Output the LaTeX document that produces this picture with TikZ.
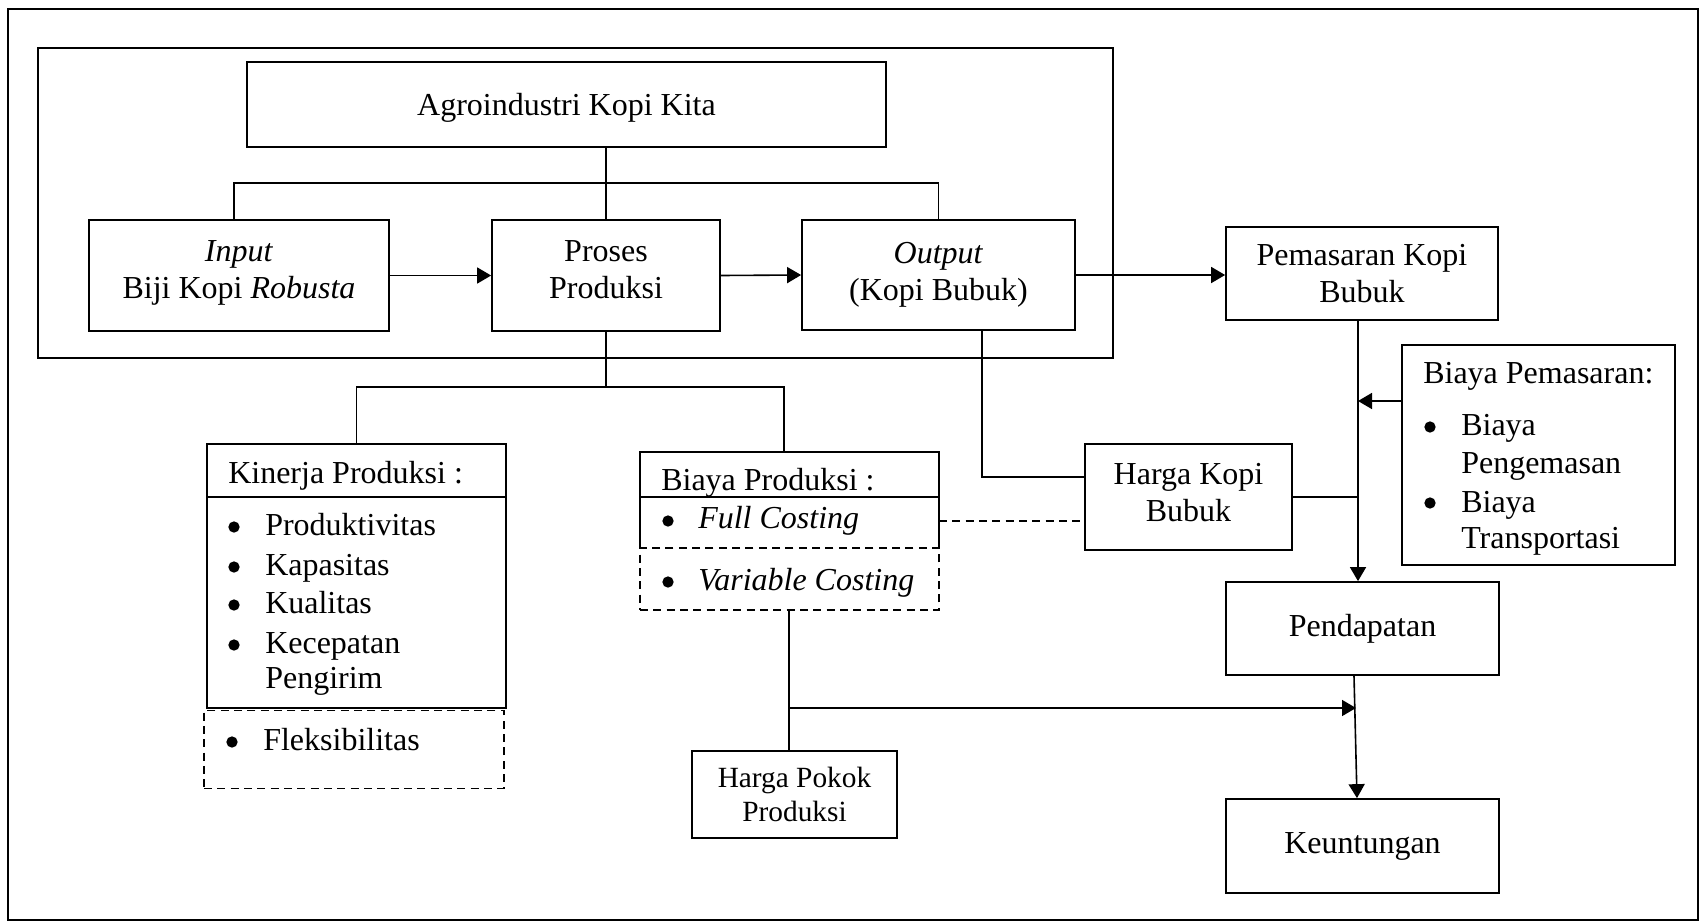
\documentclass[tikz,border=0pt]{standalone}
\usepackage{fontspec}
\setmainfont{Liberation Serif}
\usetikzlibrary{arrows.meta}

\begin{document}
\begin{tikzpicture}[x=0.75pt,y=-0.75pt,
  sz/.style 2 args={minimum width=#1*0.75pt, minimum height=#2*0.75pt},
  box/.style={draw, line width=1.3pt, inner sep=0pt, align=center,
    font=\fontsize{24}{27.75}\selectfont},
  smallbox/.style={box, font=\fontsize{22}{25.5}\selectfont},
  lbl/.style={inner sep=0pt, align=center, font=\fontsize{24}{27.75}\selectfont},
  plainbox/.style={inner sep=0pt},
  dbox/.style={draw, line width=1.2pt, dash pattern=on 6pt off 4pt, inner sep=0pt},
  wire/.style={line width=1.2pt},
  dwire/.style={wire, dash pattern=on 6pt off 4pt},
  arr/.style={wire, -{Triangle[length=10.5pt,width=12pt]}},
  bul/.style={circle, fill, inner sep=0pt, minimum size=8.5pt},
  txt/.style={anchor=base west, inner sep=0pt, font=\fontsize{24}{27.75}\selectfont}]

\useasboundingbox (0,0) rectangle (1700,921);

% outer frame and the agroindustry block
\node[draw, line width=2pt, inner sep=0pt, sz={1690}{911}] (frame) at (853,464.5) {};
\node[box, sz={1075}{310}] (sys) at (575.5,203) {};

\node[box, sz={639}{85},
  label={[lbl, name=agroT, yshift=-2.5pt]center:Agroindustri Kopi Kita}] (agro) at (566.5,104.5) {};
\node[box, sz={300}{111},
  label={[lbl, name=inputT, yshift=1.8pt]center:\textit{Input}\\Biji Kopi \textit{Robusta}}] (input) at (239,275.5) {};
\node[box, sz={228}{111},
  label={[lbl, name=prosesT, yshift=4pt]center:Proses\\Produksi}] (proses) at (606,275.5) {};
\node[box, sz={273}{110}] (output) at (938.5,275) {\textit{Output}\\(Kopi Bubuk)};

% marketing side
\node[box, sz={272}{93}] (pemasaran) at (1362,273.5) {Pemasaran Kopi\\Bubuk};
\node[box, sz={273}{220}] (bpem) at (1538.5,455) {};
\node[box, sz={207}{106},
  label={[lbl, name=hargaT, yshift=3pt]center:Harga Kopi\\Bubuk}] (harga) at (1188.5,497) {};
\node[box, sz={273}{93}] (pend) at (1362.5,628.5) {Pendapatan};
\node[box, sz={273}{94}] (untung) at (1362.5,846) {Keuntungan};

% production performance
\node[box, sz={299}{264}] (kinerja) at (356.5,576) {};
\node[dbox, sz={300}{78}] (fleks) at (354,749.5) {};
\draw[box] (kinerja.west |- 0,497) -- (kinerja.east |- 0,497);

% production cost
\node[plainbox, sz={299}{96}] (bprod) at (789.5,500) {};
\draw[box] (bprod.south west) -- (bprod.north west) -- (bprod.north east) -- (bprod.south east);
\draw[box] (bprod.west |- 0,497) -- (bprod.east |- 0,497);
\node[dbox, sz={299}{62}] (vcost) at (789.5,579) {};
\node[smallbox, sz={205}{87}] (hpp) at (794.5,794.5) {Harga Pokok\\Produksi};

% list texts
\node[txt] (bpemT) at (1423,383) {Biaya Pemasaran:};
\node[bul] (bpemB1) at (1430,427) {};
\node[txt] (bpemL1) at (1461,435) {Biaya};
\node[txt] (bpemL2) at (1461,473) {Pengemasan};
\node[bul] (bpemB2) at (1430,503) {};
\node[txt] (bpemL3) at (1461,512) {Biaya};
\node[txt] (bpemL4) at (1461,548) {Transportasi};

\node[txt] (kinT) at (228,483) {Kinerja Produksi :};
\node[bul] (kinB1) at (234,527) {};
\node[txt] (kinL1) at (265,535) {Produktivitas};
\node[bul] (kinB2) at (234,567) {};
\node[txt] (kinL2) at (265,575) {Kapasitas};
\node[bul] (kinB3) at (234,605) {};
\node[txt] (kinL3) at (265,613) {Kualitas};
\node[bul] (kinB4) at (234,645) {};
\node[txt] (kinL4) at (265,653) {Kecepatan};
\node[txt] (kinL5) at (265,688) {Pengirim};
\node[bul] (flB) at (232,742) {};
\node[txt] (flL) at (263,750) {Fleksibilitas};

\node[txt] (bprT) at (661,490) {Biaya Produksi :};
\node[bul] (bprB1) at (668,521) {};
\node[txt] (bprL1) at (698,528) {\textit{Full Costing}};
\node[bul] (bprB2) at (668,582) {};
\node[txt] (bprL2) at (698,590) {\textit{Variable Costing}};

% connectors inside the agroindustry block
\coordinate (busL) at (234,183);
\draw[wire] (proses.north |- agro.south) -- (proses.north);
\draw[wire] (busL |- input.north) -- (busL) -- (output.north |- busL) -- (output.north);
\draw[arr] (input.east) -- (proses.west);
\draw[arr] (proses.east) -- (output.west);
\draw[arr] (output.east) -- (output.east -| pemasaran.west);

% production branches
\coordinate (bus2) at (357,387);
\coordinate (bpIn) at (784,387);
\draw[wire] (proses.south) -- (proses.south |- bus2);
\draw[wire] (kinerja.north) -- (kinerja.north |- bus2) -- (bpIn) -- (bpIn |- bprod.north);

% output price path
\coordinate (hk) at (982,477);
\draw[wire] (hk |- output.south) -- (hk) -- (hk -| harga.west);
\coordinate (dl) at (939,521);
\draw[dwire] (dl) -- (dl -| harga.west);

% marketing to revenue
\coordinate (vx) at (1358,401);
\draw[wire] (harga.east) -- (harga.east -| vx);
\draw[arr] (vx |- pemasaran.south) -- (vx |- pend.north);
\draw[arr] (vx -| bpem.west) -- (vx);

% revenue to profit
\coordinate (pu1) at (1354,675);
\coordinate (pu2) at (1357,799);
\draw[arr] (pu1 |- pend.south) -- (pu2 |- untung.north);

% cost of goods
\coordinate (hv) at (789,708);
\coordinate (hvEnd) at (1356,708);
\draw[wire] (hv |- vcost.south) -- (hv |- hpp.north);
\draw[arr] (hv) -- (hvEnd);

\end{tikzpicture}
\end{document}
